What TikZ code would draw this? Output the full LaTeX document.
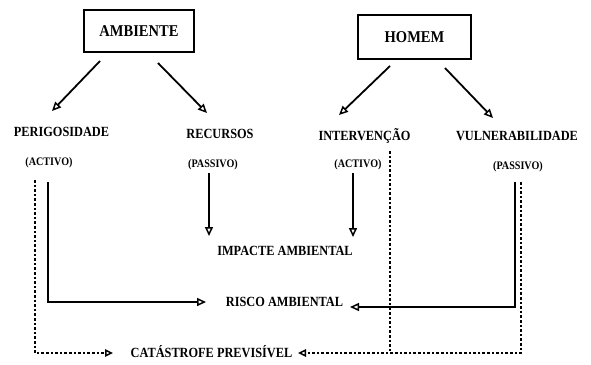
\documentclass[tikz,border=0pt]{standalone}
\usepackage{fontspec}
\setmainfont{Liberation Serif}[FakeStretch=0.88]
\usetikzlibrary{arrows.meta}
\begin{document}
\begin{tikzpicture}[x=1pt,y=-1pt,
  lab/.style={inner sep=0pt, font=\bfseries\fontsize{14}{14}\selectfont},
  big/.style={inner sep=0pt, font=\bfseries\fontsize{16.5}{16.5}\selectfont},
  small/.style={inner sep=0pt, font=\bfseries\fontsize{11.5}{11.5}\selectfont},
  boxed/.style={draw, line width=1.6pt, minimum width=110pt, minimum height=42pt},
  arr/.style={line width=1.8pt, -{Triangle[open, length=9pt, width=8pt, line width=1.5pt]}},
  dots/.style={line width=2.2pt, dash pattern=on 2.6pt off 2pt},
  darr/.style={dots, -{Triangle[open, length=8pt, width=7.5pt, line width=1.5pt]}}
]
\useasboundingbox (0,0) rectangle (591,364);
% boxes
\node[boxed, big] (amb) at (139,31) {AMBIENTE};
\node[boxed, big, minimum width=113pt, minimum height=44pt] (hom) at (414.5,37) {HOMEM};
% labels
\node[lab] (per) at (61.5,132) {PERIGOSIDADE};
\node[lab] (rec) at (220,134) {RECURSOS};
\node[lab] (int) at (364.5,136) {INTERVENÇÃO};
\node[lab] (vul) at (517,136) {VULNERABILIDADE};
\node[small] (act1) at (49,163) {(ACTIVO)};
\node[small] (pas1) at (213,165) {(PASSIVO)};
\node[small] (act2) at (358,165) {(ACTIVO)};
\node[small] (pas2) at (518,167) {(PASSIVO)};
\node[lab] (imp) at (285,251) {IMPACTE AMBIENTAL};
\node[lab] (ris) at (284.5,302) {RISCO AMBIENTAL};
\node[lab] (cat) at (211.5,352) {CATÁSTROFE PREVISÍVEL};
% coordinates for connector ends
\coordinate (a1) at (100,61);  \coordinate (a1e) at (52,111);
\coordinate (a2) at (158,63);  \coordinate (a2e) at (207,113);
\coordinate (h1) at (390,66);  \coordinate (h1e) at (339,115);
\coordinate (h2) at (445,68);  \coordinate (h2e) at (493,118);
\coordinate (rl) at (206,302); \coordinate (rr) at (350,307);
\coordinate (cl) at (113,353); \coordinate (cr) at (298,353);
% top arrows
\draw[arr] (a1) -- (a1e);
\draw[arr] (a2) -- (a2e);
\draw[arr] (h1) -- (h1e);
\draw[arr] (h2) -- (h2e);
% impacte arrows
\draw[arr] (pas1.south -| 209,0) ++(0,3) -- (209,236);
\draw[arr] (act2.south -| 353,0) ++(0,3) -- (353,237);
% risco lines
\draw[arr] (48,182) -- (48,302) -- (rl);
\draw[arr] (515,182) -- (515,307) -- (rr);
% dotted
\draw[darr] (35,180) -- (35,353) -- (cl);
\draw[dots] (390,151) -- (390,353);
\draw[darr] (521,182) -- (521,353) -- (cr);
\end{tikzpicture}
\end{document}
